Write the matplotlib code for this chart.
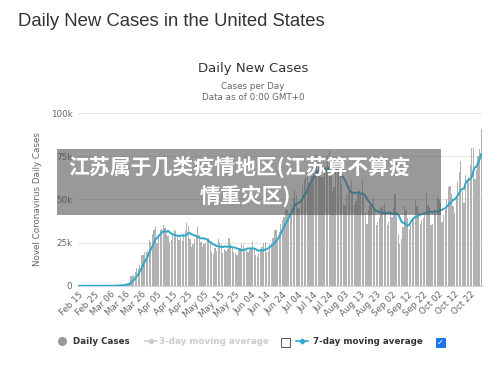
import numpy as np
import pandas as pd
import matplotlib
matplotlib.use("Agg")
import matplotlib.pyplot as plt
from matplotlib.patches import Rectangle
from matplotlib.lines import Line2D

# daily new cases, Feb 15 .. Oct 29
feb = [0, 0, 0, 1, 0, 0, 2, 0, 1, 0, 1, 3, 1, 1, 5]
mar = [8, 23, 20, 31, 68, 45, 140, 116, 65, 376, 322, 382, 516, 548, 772, 1133,
       1789, 1362, 5894, 5423, 6389, 7787, 10571, 9893, 12042, 18058, 17821,
       19821, 19408, 20921, 26341]
apr = [25200, 30081, 32133, 33867, 25023, 29595, 32105, 32850, 35098, 33752,
       29861, 28917, 25306, 26641, 29807, 32165, 31824, 29057, 26712, 28123,
       25985, 29973, 31900, 36500, 34433, 27114, 22412, 24385, 27327, 29515]
may = [34037, 29531, 25501, 22335, 23976, 24972, 27368, 27655, 25612, 19710,
       18196, 22129, 20361, 27143, 25508, 24487, 18937, 21551, 20288, 21057,
       27896, 24090, 22050, 19608, 18957, 17793, 20064, 21920, 24266, 23488, 20007]
jun = [21931, 19731, 20612, 21436, 25326, 21919, 17820, 16913, 18587, 21255,
       22765, 24617, 25303, 19633, 20102, 24002, 24999, 27704, 32098, 32531,
       27358, 31390, 35886, 38386, 39972, 44458, 43997, 41891, 42133, 47010]
jul = [51097, 55220, 52609, 45084, 44361, 49553, 58429, 61848, 62918, 66627,
       59393, 58349, 63643, 65353, 71670, 75600, 71558, 64771, 62879, 63201,
       65830, 69150, 74987, 78500, 65730, 55187, 57400, 66000, 71000, 70000, 68000]
aug = [59000, 47000, 47000, 53000, 55000, 58000, 61000, 55000, 47000, 49000,
       53000, 55000, 53000, 62000, 52000, 42000, 36000, 44000, 47000, 46000,
       51000, 43000, 35000, 37000, 40000, 45000, 46000, 48000, 44000, 35000, 37000]
sep = [42000, 40000, 45000, 53000, 42000, 30000, 24000, 27000, 34000, 46000,
       44000, 39000, 33000, 35000, 38000, 40000, 50000, 46000, 43000, 36000,
       38000, 39000, 42000, 54000, 47000, 45000, 35000, 36000, 43000, 42000]
oct_ = [52000, 50000, 48000, 37000, 41000, 44000, 50000, 57000, 58000, 53000,
        46000, 42000, 51000, 60000, 66000, 72000, 55000, 48000, 64000, 61000,
        63000, 70000, 80000, 80000, 62000, 67000, 75000, 79000, 91000]

cases = feb + mar + apr + may + jun + jul + aug + sep + oct_
dates = pd.date_range("2020-02-15", periods=len(cases), freq="D")
avg7 = pd.Series(cases).rolling(7, min_periods=1).mean().values

tick_dates = pd.date_range("2020-02-15", "2020-10-22", freq="10D")
tick_labels = [d.strftime("%b %d") for d in tick_dates]

fig = plt.figure(figsize=(5, 3.66), dpi=100)
ax = fig.add_axes([0.156, 0.219, 0.808, 0.472])

x = np.arange(len(cases))
ax.bar(x, cases, width=0.78, color="#b2b2b2", zorder=2)
ax.plot(x, avg7, color="#2ea7c9", lw=1.4, zorder=3)

ax.set_xlim(-0.5, len(cases) - 0.5)
ax.set_ylim(0, 100000)
ax.set_yticks([0, 25000, 50000, 75000, 100000])
ax.set_yticklabels(["0", "25k", "50k", "75k", "100k"])
ax.set_xticks([(d - dates[0]).days for d in tick_dates])
ax.set_xticklabels(tick_labels, rotation=45, ha="right", rotation_mode="anchor")
ax.tick_params(axis="both", labelsize=6.3, colors="#666666", length=0, pad=4)
ax.tick_params(axis="x", pad=3)
ax.grid(axis="y", color="#e6e6e6", lw=0.8, zorder=0)
for s in ["top", "right", "left"]:
    ax.spines[s].set_visible(False)
ax.spines["bottom"].set_color("#ccd6eb")
ax.set_ylabel("Novel Coronavirus Daily Cases", fontsize=6.3, color="#666666", labelpad=6)

fig.text(0.036, 0.94, "Daily New Cases in the United States", fontsize=13.3,
         color="#333333", family="Liberation Sans", va="center")
fig.text(0.506, 0.812, "Daily New Cases", fontsize=9.5, color="#333333", ha="center", va="center")
fig.text(0.506, 0.765, "Cases per Day", fontsize=6.3, color="#666666", ha="center", va="center")
fig.text(0.506, 0.733, "Data as of 0:00 GMT+0", fontsize=6.3, color="#666666", ha="center", va="center")

# overlay banner
fig.patches.append(Rectangle((0.114, 0.4126), 0.768, 0.18, transform=fig.transFigure,
                             facecolor="#555555", alpha=0.6, edgecolor="none", zorder=5))
cjk = ["Noto Sans CJK SC", "DejaVu Sans"]
fig.text(0.479, 0.54, "江苏属于几类疫情地区(江苏算不算疫", fontsize=15, color="white",
         weight="bold", family=cjk, ha="center", va="center", zorder=6)
fig.text(0.49, 0.465, "情重灾区)", fontsize=15, color="white",
         weight="bold", family=cjk, ha="center", va="center", zorder=6)

# legend
ly = 0.068
fs = 6.3
fig.add_artist(Line2D([0.124], [ly], marker="o", ms=5.5, color="#999999", transform=fig.transFigure))
fig.text(0.146, ly, "Daily Cases", fontsize=fs, weight="bold", color="#333333", va="center")
fig.add_artist(Line2D([0.290, 0.314], [ly, ly], lw=1.2, color="#cccccc", transform=fig.transFigure))
fig.add_artist(Line2D([0.302], [ly], marker="o", ms=3, color="#cccccc", transform=fig.transFigure))
fig.text(0.318, ly, "3-day moving average", fontsize=fs, weight="bold", color="#cccccc", va="center")
fig.patches.append(Rectangle((0.562, ly - 0.017), 0.018, 0.026, transform=fig.transFigure,
                             facecolor="white", edgecolor="#555555", lw=0.7))
fig.add_artist(Line2D([0.592, 0.616], [ly, ly], lw=1.2, color="#2ea7c9", transform=fig.transFigure))
fig.add_artist(Line2D([0.604], [ly], marker="D", ms=2.5, color="#2ea7c9", transform=fig.transFigure))
fig.text(0.626, ly, "7-day moving average", fontsize=fs, weight="bold", color="#333333", va="center")
fig.patches.append(Rectangle((0.871, ly - 0.017), 0.018, 0.026, transform=fig.transFigure,
                             facecolor="#1a73e8", edgecolor="#1a73e8", lw=0.7))
fig.text(0.880, ly - 0.004, "✓", fontsize=6, color="white", ha="center", va="center", weight="bold")

fig.savefig("out.png", dpi=100)
